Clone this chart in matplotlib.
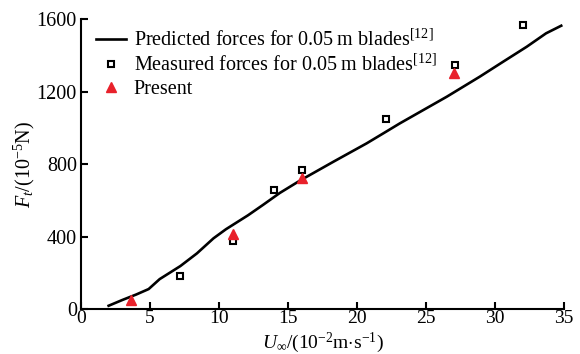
import matplotlib
matplotlib.use("Agg")
import matplotlib.pyplot as plt

plt.rcParams["font.family"] = ["Liberation Serif", "DejaVu Serif"]
plt.rcParams["mathtext.fontset"] = "custom"
plt.rcParams["mathtext.rm"] = "Liberation Serif"
plt.rcParams["mathtext.it"] = "Liberation Serif:italic"

# Predicted forces (curve)
pred_u = [2.0, 3.0, 4.0, 4.9, 5.7, 7.2, 8.4, 9.6, 10.5, 12.1, 13.2, 14.4,
          15.9, 18.3, 20.7, 22.1, 23.1, 26.5, 28.9, 30.5, 32.3, 33.7, 34.8]
pred_f = [18, 50, 80, 110, 165, 237, 307, 390, 440, 517, 575, 640,
          710, 813, 914, 978, 1024, 1171, 1282, 1360, 1447, 1521, 1563]

# Measured forces
meas_u = [7.2, 11.0, 14.0, 16.0, 22.1, 27.1, 32.0]
meas_f = [182, 377, 658, 767, 1048, 1346, 1569]

# Present results
pres_u = [3.6, 11.0, 16.0, 27.0]
pres_f = [51, 412, 721, 1304]

x_ticks = [0, 5, 10, 15, 20, 25, 30, 35]
y_ticks = [0, 400, 800, 1200, 1600]

FS = 14.5

fig = plt.figure(figsize=(5.8, 3.54), dpi=100)
ax = fig.add_axes([0.1397, 0.1271, 0.8327, 0.8192])

ax.plot(pred_u, pred_f, color="black", lw=1.9,
        label="Predicted forces for 0.05\u2009m blades$^{[12]}$")
ax.plot(meas_u, meas_f, ls="none", marker="s", ms=5, mfc="none",
        mec="black", mew=1.5,
        label="Measured forces for 0.05\u2009m blades$^{[12]}$")
ax.plot(pres_u, pres_f, ls="none", marker="^", ms=7, color="#e8212b",
        label="Present")

ax.set_xlim(0, 35)
ax.set_ylim(0, 1600)
ax.set_xticks(x_ticks)
ax.set_yticks(y_ticks)
for s in ["top", "right"]:
    ax.spines[s].set_visible(False)
for s in ["left", "bottom"]:
    ax.spines[s].set_linewidth(1.5)
ax.tick_params(direction="in", length=5, width=1.5, labelsize=FS, pad=3)
ax.tick_params(axis="x", labelsize=14, pad=1)

ax.set_xlabel("$U_{\\infty}$/(10$^{-2}$m$\\cdot$s$^{-1}$)", fontsize=14)
ax.xaxis.set_label_coords(0.5, -0.074)
ax.set_ylabel("$F_{t}$/(10$^{-5}$N)", fontsize=FS)
ax.yaxis.set_label_coords(-0.092, 0.5)

ax.legend(loc="upper left", bbox_to_anchor=(0.005, 1.005), frameon=False,
          fontsize=FS, handlelength=1.5, handletextpad=0.4,
          labelspacing=0.2, borderaxespad=0.2)

fig.savefig("out.png", dpi=100)
